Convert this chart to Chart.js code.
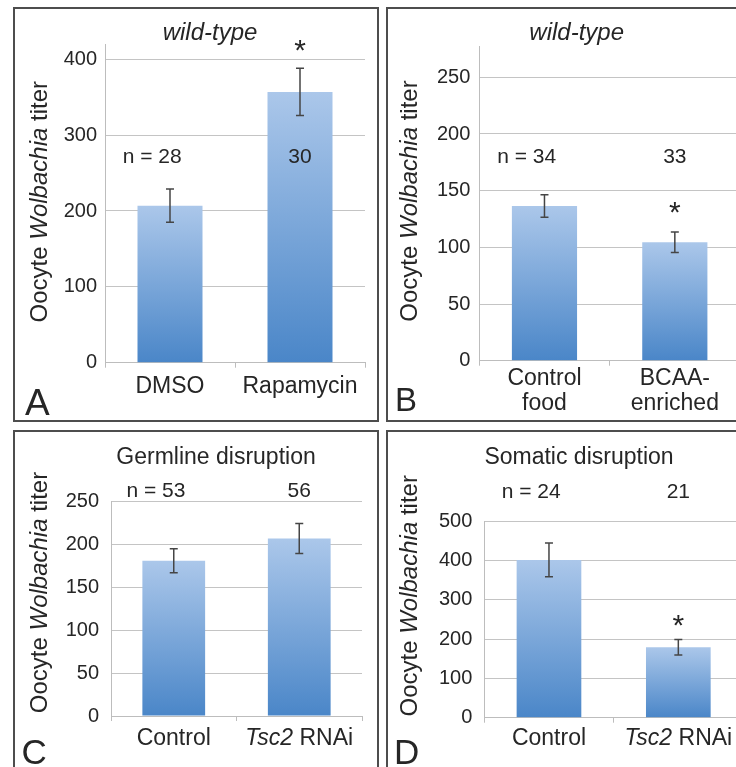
<!DOCTYPE html>
<html><head><meta charset="utf-8">
<script src="https://cdn.jsdelivr.net/npm/chart.js@4.4.1/dist/chart.umd.min.js"></script>
<style>
html,body{margin:0;padding:0;width:736px;height:767px;overflow:hidden;background:#fff;position:relative}
canvas{position:absolute}
.frame{position:absolute;border:2px solid #4d4d4d;box-sizing:border-box;pointer-events:none}
</style></head><body>
<canvas id="cA" width="362" height="411" style="left:15px;top:9px;width:362px;height:411px"></canvas>
<canvas id="cB" width="372" height="411" style="left:388px;top:9px;width:372px;height:411px"></canvas>
<canvas id="cC" width="362" height="340" style="left:15px;top:432px;width:362px;height:340px"></canvas>
<canvas id="cD" width="372" height="340" style="left:388px;top:432px;width:372px;height:340px"></canvas>
<div class="frame" style="left:13px;top:7px;width:366px;height:415px"></div>
<div class="frame" style="left:386px;top:7px;width:400px;height:415px"></div>
<div class="frame" style="left:13px;top:430px;width:366px;height:400px"></div>
<div class="frame" style="left:386px;top:430px;width:400px;height:400px"></div>
<script>
// ---- data ----
const yTitle = 'Oocyte Wolbachia titer';
const italicWords = ['Wolbachia', 'Tsc2'];

const catsA = ['DMSO', 'Rapamycin'];
const meanA = [207, 357];
const semA = [22, 31];
const nA = ['28', '30'];
const sigA = [false, true];
const ticksA = [0, 100, 200, 300, 400];
const titleA = 'wild-type';

const catsB = [['Control', 'food'], ['BCAA-', 'enriched']];
const meanB = [136.5, 104.5];
const semB = [10, 9];
const nB = ['34', '33'];
const sigB = [false, true];
const ticksB = [0, 50, 100, 150, 200, 250];
const titleB = 'wild-type';

const catsC = ['Control', 'Tsc2 RNAi'];
const meanC = [181, 207];
const semC = [14, 17.5];
const nC = ['53', '56'];
const sigC = [false, false];
const ticksC = [0, 50, 100, 150, 200, 250];
const titleC = 'Germline disruption';

const catsD = ['Control', 'Tsc2 RNAi'];
const meanD = [401, 179];
const semD = [43, 19.5];
const nD = ['24', '21'];
const sigD = [false, true];
const ticksD = [0, 100, 200, 300, 400, 500];
const titleD = 'Somatic disruption';

// ---- style ----
const FAM = '"Liberation Sans", Arial, Helvetica, sans-serif';
const TXT = '#262626';
const GRID = '#c4c4c4';
const AXIS = '#bdbdbd';

function grad(c) {
  const ch = c.chart, ys = ch.scales && ch.scales.y;
  const v = c.parsed ? c.parsed.y : c.raw;
  if (!ys || v == null) return '#6d9fd7';
  const top = ys.getPixelForValue(v), bot = ys.getPixelForValue(0);
  if (!isFinite(top) || !isFinite(bot) || top === bot) return '#6d9fd7';
  const g = ch.ctx.createLinearGradient(0, top, 0, bot);
  g.addColorStop(0, '#abc7ea');
  g.addColorStop(1, '#4a86c8');
  return g;
}

function drawMixed(ctx, text, x, y, size, align, allItalic) {
  const parts = text.split(/(\s+)/).filter(s => s.length);
  const segs = parts.map(s => ({ s, it: allItalic || italicWords.includes(s) }));
  const fontFor = it => (it ? 'italic ' : '') + size + 'px ' + FAM;
  let total = 0;
  segs.forEach(g => { ctx.font = fontFor(g.it); g.w = ctx.measureText(g.s).width; total += g.w; });
  let sx = align === 'center' ? x - total / 2 : (align === 'right' ? x - total : x);
  ctx.textAlign = 'left';
  segs.forEach(g => { ctx.font = fontFor(g.it); ctx.fillText(g.s, sx, y); sx += g.w; });
}

function panelPlugin(p) {
  return {
    id: 'panel' + p.key,
    afterDatasetsDraw(chart) {
      const ctx = chart.ctx, xs = chart.scales.x, ys = chart.scales.y;
      const ox = p.ox, oy = p.oy;
      ctx.save();
      // error bars
      ctx.strokeStyle = '#454545';
      ctx.lineWidth = 1.5;
      p.mean.forEach((m, i) => {
        const cx = xs.getPixelForValue(i);
        const t = ys.getPixelForValue(m + p.sem[i]);
        const b = ys.getPixelForValue(m - p.sem[i]);
        ctx.beginPath();
        ctx.moveTo(cx, t); ctx.lineTo(cx, b);
        ctx.moveTo(cx - 4, t); ctx.lineTo(cx + 4, t);
        ctx.moveTo(cx - 4, b); ctx.lineTo(cx + 4, b);
        ctx.stroke();
      });
      ctx.fillStyle = TXT;
      ctx.textBaseline = 'alphabetic';
      // significance asterisks
      p.sig.forEach((s, i) => {
        if (!s) return;
        const cx = xs.getPixelForValue(i);
        const t = ys.getPixelForValue(p.mean[i] + p.sem[i]);
        ctx.font = '30px ' + FAM;
        ctx.textAlign = 'center';
        ctx.fillText('*', cx, t - p.starOff);
      });
      // n labels
      ctx.font = '21px ' + FAM;
      p.n.forEach((n, i) => {
        const cx = xs.getPixelForValue(i);
        ctx.textAlign = 'center';
        ctx.fillText(n, cx, p.nY - oy);
        if (i === 0) {
          const w = ctx.measureText(n).width;
          ctx.textAlign = 'right';
          ctx.fillText('n = ', cx - w / 2, p.nY - oy);
        }
      });
      // category labels
      p.cats.forEach((c, i) => {
        const cx = xs.getPixelForValue(i);
        const lines = Array.isArray(c) ? c : [c];
        lines.forEach((ln, k) => drawMixed(ctx, ln, cx, p.catY - oy + k * 25, 23, 'center', false));
      });
      // panel title
      drawMixed(ctx, p.title, p.titleX - ox, p.titleY - oy, p.titleSize, 'center', p.titleItalic);
      // y axis title
      ctx.save();
      ctx.translate(p.yTitleX - ox, p.yTitleY - oy);
      ctx.rotate(-Math.PI / 2);
      drawMixed(ctx, yTitle, 0, 0, 24, 'center', false);
      ctx.restore();
      // panel letter
      ctx.font = p.letterSize + 'px ' + FAM;
      ctx.textAlign = 'left';
      ctx.fillText(p.letter, p.letterX - ox, p.letterY - oy);
      ctx.restore();
    }
  };
}

function makeChart(id, p) {
  return new Chart(document.getElementById(id), {
    type: 'bar',
    data: {
      labels: p.cats.map(c => Array.isArray(c) ? c.join(' ') : c),
      datasets: [{ data: p.mean, backgroundColor: grad, borderWidth: 0, barPercentage: 0.5, categoryPercentage: 1 }]
    },
    options: {
      responsive: false,
      animation: false,
      events: [],
      layout: { padding: { left: 0, right: p.padR, top: p.padT, bottom: 0 } },
      plugins: { legend: { display: false }, tooltip: { enabled: false }, title: { display: false } },
      scales: {
        x: {
          grid: { drawOnChartArea: false, drawTicks: true, tickLength: 5, color: AXIS, offset: true },
          border: { color: AXIS, width: 1 },
          ticks: { display: false },
          afterFit: s => { s.height = p.xH; }
        },
        y: {
          min: 0, max: p.max,
          grid: { color: GRID, drawTicks: false, lineWidth: 1 },
          border: { color: AXIS, width: 1 },
          ticks: { padding: p.tickPad, color: TXT, font: { family: FAM, size: 20 }, includeBounds: false },
          afterBuildTicks: s => { s.ticks = p.ticks.map(v => ({ value: v })); },
          afterFit: s => { s.width = p.yW; }
        }
      }
    },
    plugins: [panelPlugin(p)]
  });
}

makeChart('cA', {
  key: 'A', ox: 15, oy: 9, cats: catsA, mean: meanA, sem: semA, n: nA, sig: sigA, ticks: ticksA,
  max: 420, yW: 90, padR: 12, padT: 35.1, xH: 57.3, tickPad: 8,
  title: titleA, titleItalic: true, titleSize: 24, titleX: 210, titleY: 40,
  nY: 163, catY: 393, starOff: 8.5,
  yTitleX: 46.5, yTitleY: 201.7, letter: 'A', letterX: 25, letterY: 415, letterSize: 37
});
makeChart('cB', {
  key: 'B', ox: 388, oy: 9, cats: catsB, mean: meanB, sem: semB, n: nB, sig: sigB, ticks: ticksB,
  max: 277, yW: 91.3, padR: 20, padT: 37.7, xH: 59.3, tickPad: 9,
  title: titleB, titleItalic: true, titleSize: 24, titleX: 576.7, titleY: 40,
  nY: 163, catY: 385, starOff: 9.8,
  yTitleX: 416.7, yTitleY: 201, letter: 'B', letterX: 395, letterY: 410.5, letterSize: 33
});
makeChart('cC', {
  key: 'C', ox: 15, oy: 432, cats: catsC, mean: meanC, sem: semC, n: nC, sig: sigC, ticks: ticksC,
  max: 250, yW: 96, padR: 15, padT: 69.7, xH: 56, tickPad: 12,
  title: titleC, titleItalic: false, titleSize: 23, titleX: 216, titleY: 464,
  nY: 497, catY: 745, starOff: 8,
  yTitleX: 46.5, yTitleY: 592.5, letter: 'C', letterX: 21.5, letterY: 764, letterSize: 35
});
makeChart('cD', {
  key: 'D', ox: 388, oy: 432, cats: catsD, mean: meanD, sem: semD, n: nD, sig: sigD, ticks: ticksD,
  max: 500, yW: 96.3, padR: 17, padT: 89, xH: 54.3, tickPad: 12,
  title: titleD, titleItalic: false, titleSize: 23, titleX: 579, titleY: 463.5,
  nY: 498, catY: 745, starOff: 5,
  yTitleX: 417, yTitleY: 595.8, letter: 'D', letterX: 394, letterY: 764, letterSize: 35
});
</script>
</body></html>
